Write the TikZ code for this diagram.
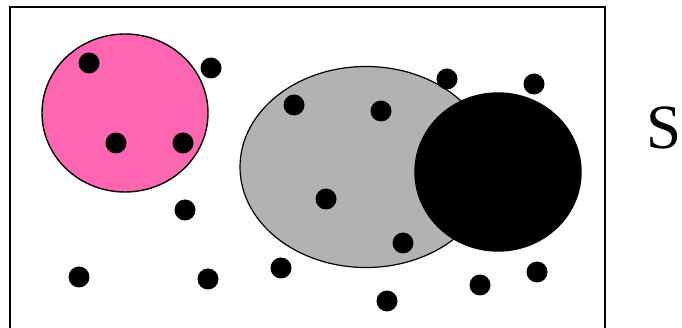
\documentclass[tikz,border=0pt]{standalone}
\usepackage{fontspec}
\setmainfont{Liberation Serif}
\usepackage{xcolor}
\usetikzlibrary{shapes.geometric}
\definecolor{setpink}{RGB}{255,102,178}
\definecolor{setgray}{RGB}{178,178,178}
\tikzset{
  dot/.style={circle,fill=black,inner sep=0pt,minimum size=21pt},
  setA/.style={ellipse,draw,line width=1.4pt,inner sep=0pt}
}

\begin{document}
\begin{tikzpicture}[x=1pt,y=-1pt]
\useasboundingbox (0,0) rectangle (682,328);
\draw[line width=1.5pt] (10,330) -- (10,7) -- (605,7) -- (605,330);
\node[setA,fill=setpink,minimum width=166pt,minimum height=158pt] (A) at (125,113) {};
\node[setA,fill=setgray,line width=1.2pt,minimum width=252pt,minimum height=201pt] (B) at (366,167) {};
\node[setA,fill=black,minimum width=166pt,minimum height=158pt] (C) at (498,172) {};
\node[dot] (p1) at (89,63) {};
\node[dot] (p2) at (211,68) {};
\node[dot] (p3) at (116,143) {};
\node[dot] (p4) at (183,143) {};
\node[dot] (p5) at (185,210) {};
\node[dot] (p6) at (79,277) {};
\node[dot] (p7) at (208,279) {};
\node[dot] (p8) at (281,268) {};
\node[dot] (p9) at (294,105) {};
\node[dot] (p10) at (381,111) {};
\node[dot] (p11) at (326,199) {};
\node[dot] (p12) at (403,243) {};
\node[dot] (p13) at (447,79) {};
\node[dot] (p14) at (534,84) {};
\node[dot] (p15) at (387,301) {};
\node[dot] (p16) at (480,285) {};
\node[dot] (p17) at (537,272) {};
\node[inner sep=0pt] (S) at (664,128) {\fontsize{63}{63}\selectfont S};
\end{tikzpicture}
\end{document}
